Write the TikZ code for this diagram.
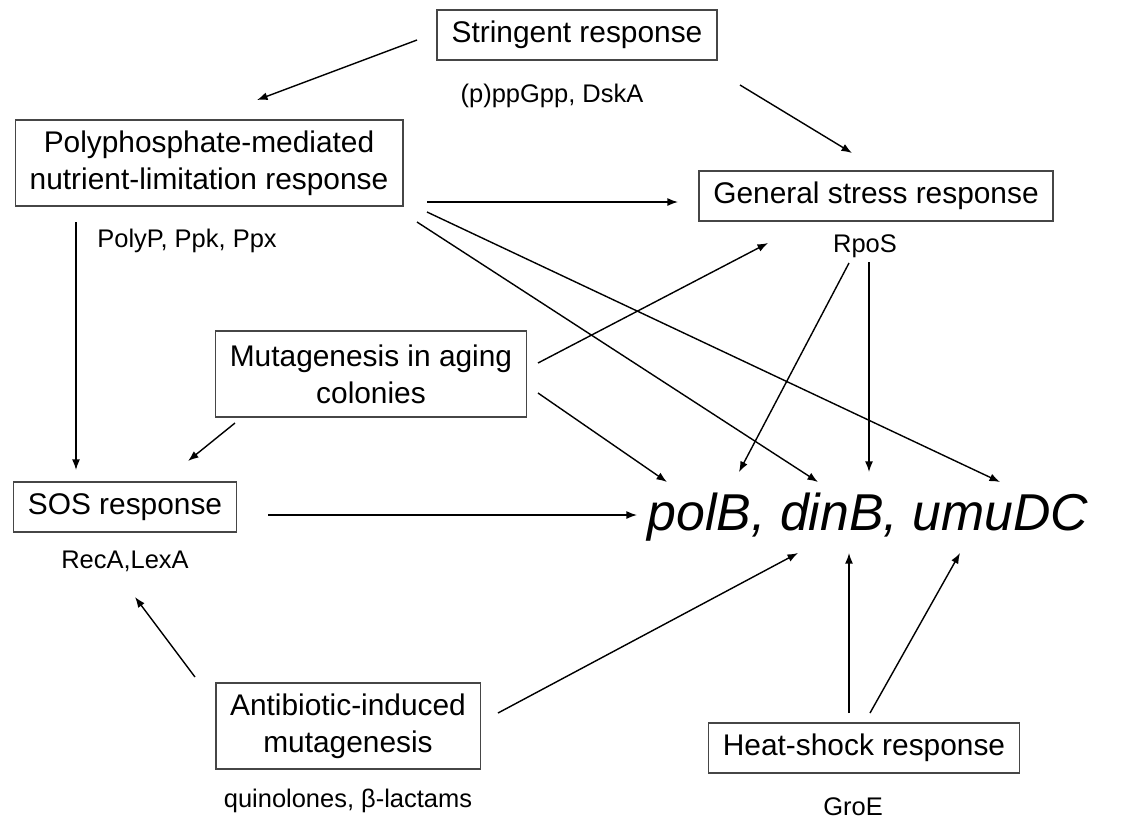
\documentclass[tikz,border=0pt]{standalone}
\usepackage{fontspec}
\setmainfont{Liberation Sans}
\usetikzlibrary{arrows.meta}
\definecolor{boxgray}{RGB}{70,70,70}

\begin{document}
\begin{tikzpicture}[x=0.02cm,y=-0.02cm,
  respbox/.style={draw=boxgray,line width=0.9pt,align=center,
    font=\fontsize{17}{21}\selectfont,inner xsep=8.2pt,inner ysep=6pt,
    minimum height=28.5pt},
  twoline/.style={respbox,minimum height=49pt},
  protlabel/.style={font=\fontsize{14.5}{17}\selectfont,anchor=base,inner xsep=0pt},
  arr/.style={-{Latex[length=6pt,width=4.5pt]},line width=0.8pt}]
\useasboundingbox (0,0) rectangle (1125,819);

% response boxes
\node[respbox] (strg) at (577,35) {Stringent response};
\node[twoline] (poly) at (209,163) {Polyphosphate-mediated\\nutrient-limitation response};
\node[respbox] (gen) at (876,196) {General stress response};
\node[twoline] (aging) at (371,374) {Mutagenesis in aging\\colonies};
\node[respbox] (sos) at (125,507) {SOS response};
\node[twoline] (anti) at (348,726) {Antibiotic-induced\\mutagenesis};
\node[respbox] (heat) at (864,748) {Heat-shock response};

% target genes
\node[font=\fontsize{29.5}{35}\selectfont\itshape,anchor=base] (genes) at (868,530) {polB, dinB, umuDC};

% regulators
\node[protlabel] (strgl) at (552,102) {(p)ppGpp, DskA};
\node[protlabel,anchor=base west] (polyl) at (97,247) {PolyP, Ppk, Ppx};
\node[protlabel] (genl) at (865,252) {RpoS};
\node[protlabel] (sosl) at (125,568) {RecA,LexA};
\node[protlabel] (antil) at (348,807) {quinolones, β-lactams};
\node[protlabel] (heatl) at (853,815) {GroE};

% arrow ends
\coordinate (strg-a) at (417,40);   \coordinate (poly-in) at (257,100);
\coordinate (strg-b) at (740,85);   \coordinate (gen-in1) at (852,153);
\coordinate (poly-a) at (427,202);  \coordinate (gen-in2) at (678,202);
\coordinate (poly-b) at (417,222);  \coordinate (dinB-t1) at (818,482);
\coordinate (poly-c) at (427,212);  \coordinate (umu-t) at (1000,482);
\coordinate (poly-d) at (76,222);   \coordinate (sos-in1) at (76,470);
\coordinate (rpos-a) at (849,263);  \coordinate (polB-t1) at (739,472);
\coordinate (rpos-b) at (869,262);  \coordinate (dinB-t2) at (869,472);
\coordinate (aging-a) at (538,363); \coordinate (gen-in3) at (768,243);
\coordinate (aging-b) at (538,393); \coordinate (polB-t2) at (667,482);
\coordinate (aging-c) at (235,423); \coordinate (sos-in2) at (188,461);
\coordinate (sos-a) at (268,515);   \coordinate (polB-l) at (637,515);
\coordinate (anti-a) at (195,677);  \coordinate (sos-in3) at (135,597);
\coordinate (anti-b) at (498,713);  \coordinate (dinB-b1) at (798,553);
\coordinate (heat-a) at (849,713);  \coordinate (dinB-b2) at (849,553);
\coordinate (heat-b) at (870,713);  \coordinate (umu-b) at (960,553);

% connections
\draw[arr] (strg-a) -- (poly-in);
\draw[arr] (strg-b) -- (gen-in1);
\draw[arr] (poly-a) -- (gen-in2);
\draw[arr] (poly-b) -- (dinB-t1);
\draw[arr] (poly-c) -- (umu-t);
\draw[arr] (poly-d) -- (sos-in1);
\draw[arr] (rpos-a) -- (polB-t1);
\draw[arr] (rpos-b) -- (dinB-t2);
\draw[arr] (aging-a) -- (gen-in3);
\draw[arr] (aging-b) -- (polB-t2);
\draw[arr] (aging-c) -- (sos-in2);
\draw[arr] (sos-a) -- (polB-l);
\draw[arr] (anti-a) -- (sos-in3);
\draw[arr] (anti-b) -- (dinB-b1);
\draw[arr] (heat-a) -- (dinB-b2);
\draw[arr] (heat-b) -- (umu-b);
\end{tikzpicture}
\end{document}
